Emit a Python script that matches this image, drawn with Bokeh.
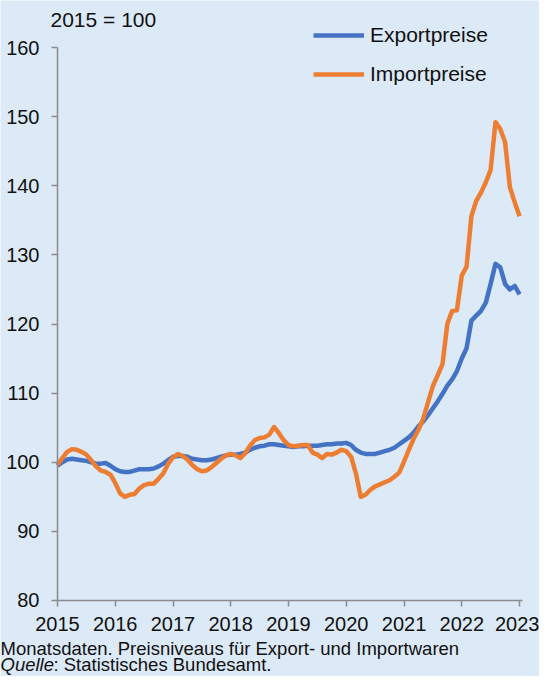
from bokeh.plotting import figure
from bokeh.models import Range1d, FixedTicker, Legend, LegendItem, Label, ColumnDataSource, LinearAxis
from bokeh.embed import file_html
from bokeh.resources import INLINE

# ---- data (monthly, Jan 2015 .. Jan 2023, 2015 = 100) ----
years = [2015, 2016, 2017, 2018, 2019, 2020, 2021, 2022, 2023]
y_ticks = [80, 90, 100, 110, 120, 130, 140, 150, 160]
start_year = 2015

export_prices = [
    99.5, 100.0, 100.4, 100.5, 100.4, 100.3, 100.2, 100.0, 99.8, 99.8, 99.9, 99.5,
    99.0, 98.7, 98.6, 98.6, 98.8, 99.0, 99.0, 99.0, 99.1, 99.4, 99.8, 100.3,
    100.8, 100.9, 100.9, 100.8, 100.5, 100.4, 100.3, 100.3, 100.4, 100.6, 100.8, 101.0,
    101.1, 101.1, 101.2, 101.4, 101.8, 102.1, 102.3, 102.4, 102.6, 102.6, 102.5, 102.4,
    102.3, 102.2, 102.3, 102.3, 102.4, 102.4, 102.4, 102.5, 102.6, 102.6, 102.7, 102.7,
    102.8, 102.5, 101.8, 101.4, 101.2, 101.2, 101.2, 101.4, 101.6, 101.8, 102.1, 102.6,
    103.1, 103.6, 104.3, 105.2, 105.9, 106.8, 107.8, 108.8, 109.9, 111.1, 112.0, 113.2,
    115.0, 116.5, 120.5, 121.2, 121.9, 123.1, 125.8, 128.7, 128.2, 125.8, 125.0, 125.5,
    124.3,
]

import_prices = [
    99.6, 100.6, 101.5, 101.9, 101.8, 101.5, 101.1, 100.3, 99.4, 98.8, 98.6, 98.2,
    97.0, 95.5, 95.0, 95.3, 95.4, 96.2, 96.7, 96.9, 96.9, 97.6, 98.4, 99.8,
    100.7, 101.2, 100.9, 100.4, 99.6, 99.0, 98.7, 98.8, 99.3, 99.9, 100.5, 101.0,
    101.2, 101.0, 100.6, 101.3, 102.4, 103.2, 103.5, 103.6, 104.0, 105.1, 104.2, 103.2,
    102.5, 102.3, 102.4, 102.5, 102.5, 101.4, 101.1, 100.6, 101.2, 101.1, 101.4, 101.8,
    101.6, 100.8, 98.4, 95.0, 95.3, 96.0, 96.5, 96.8, 97.1, 97.4, 97.9, 98.5,
    100.1, 101.8, 103.4, 104.7, 106.3, 108.7, 111.0, 112.6, 114.2, 120.0, 121.9, 122.0,
    127.0, 128.3, 135.6, 137.8, 139.0, 140.5, 142.3, 149.2, 148.2, 146.3, 139.8, 137.6,
    135.6,
]

series_names = ["Exportpreise", "Importpreise"]
header_text = "2015 = 100"
caption_line1 = "Monatsdaten. Preisniveaus für Export- und Importwaren"
caption_source_label = "Quelle"
caption_source_text = ": Statistisches Bundesamt."

x_vals = [start_year + i / 12 for i in range(len(export_prices))]

BG = "#dce9f6"
FONT = "Liberation Sans"
AXIS_COL = "#8c8c8c"
TXT = "#111111"

W, H = 539, 676
p = figure(width=W, height=H, output_backend="svg", toolbar_location=None,
           x_range=Range1d(2014.013, 2023.346), y_range=Range1d(69.005, 166.8),
           x_axis_location=None, y_axis_location=None,
           min_border=0, background_fill_color=BG, border_fill_color=BG)
p.outline_line_color = None
p.xgrid.visible = False
p.ygrid.visible = False

xaxis = LinearAxis(ticker=FixedTicker(ticks=years), bounds=(2015, 2023.05), fixed_location=80)
yaxis = LinearAxis(ticker=FixedTicker(ticks=y_ticks), bounds=(80, 160), fixed_location=2015)
for ax in (xaxis, yaxis):
    ax.axis_line_color = AXIS_COL
    ax.axis_line_width = 1.5
    ax.major_tick_line_color = AXIS_COL
    ax.major_tick_line_width = 1.5
    ax.major_tick_in = 0
    ax.major_tick_out = 6
    ax.minor_tick_line_color = None
    ax.major_label_text_font = FONT
    ax.major_label_text_font_size = "20px"
    ax.major_label_text_color = TXT
xaxis.major_label_standoff = 11
yaxis.major_label_standoff = 12
p.add_layout(xaxis, "below")
p.add_layout(yaxis, "left")

src = ColumnDataSource(dict(x=x_vals, exp=export_prices, imp=import_prices))
r_exp = p.line("x", "exp", source=src, line_color="#4472C4", line_width=4.5, line_join="round")
r_imp = p.line("x", "imp", source=src, line_color="#ED7D31", line_width=4.5, line_join="round")

legend = Legend(items=[LegendItem(label=series_names[0], renderers=[r_exp]),
                       LegendItem(label=series_names[1], renderers=[r_imp])],
                location=(313, 590), orientation="vertical",
                background_fill_alpha=0, border_line_color=None,
                padding=0, margin=0, spacing=15,
                glyph_width=51, glyph_height=24, label_height=24, label_standoff=6,
                label_text_font=FONT, label_text_font_size="21px", label_text_color=TXT)
p.add_layout(legend)

common = dict(x_units="screen", y_units="screen", text_font=FONT, text_color=TXT,
              text_baseline="alphabetic", text_align="left")
p.add_layout(Label(x=50, y=657, text=header_text, text_font_size="21px", **common))
p.add_layout(Label(x=0, y=28, text=caption_line1, text_font_size="18.5px", **common))
p.add_layout(Label(x=0, y=12, text=caption_source_label, text_font_size="18.5px",
                   text_font_style="italic", **common))
p.add_layout(Label(x=53, y=12, text=caption_source_text, text_font_size="18.5px", **common))

html = file_html(p, INLINE)
html = html.replace("<body>", '<body style="background-color:%s;">' % BG, 1)
open("out.html", "w").write(html)
